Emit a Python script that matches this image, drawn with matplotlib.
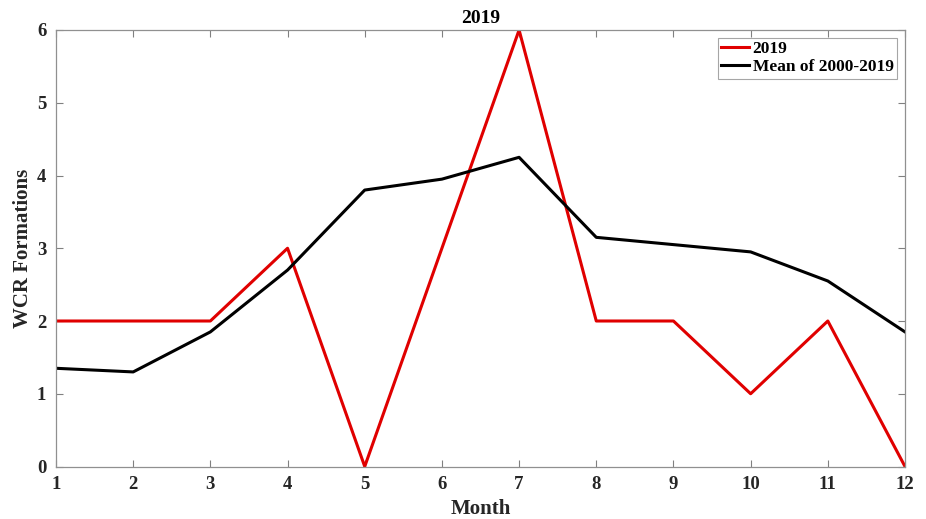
import matplotlib
matplotlib.use("Agg")
import matplotlib.pyplot as plt

months = [1, 2, 3, 4, 5, 6, 7, 8, 9, 10, 11, 12]
wcr_2019 = [2, 2, 2, 3, 0, 3, 6, 2, 2, 1, 2, 0]
wcr_mean = [1.35, 1.30, 1.85, 2.70, 3.80, 3.95, 4.25, 3.15, 3.05, 2.95, 2.55, 1.85]
xticks = months
yticks = [0, 1, 2, 3, 4, 5, 6]

plt.rcParams['font.family'] = ['Liberation Serif', 'DejaVu Serif']
plt.rcParams['font.weight'] = 'bold'

fig = plt.figure(figsize=(9.26, 5.19), dpi=100)
ax = fig.add_axes([56/926, 1 - 466.5/519, (905-56)/926, (466.5-30)/519])

ax.plot(months, wcr_2019, color='#e00000', lw=2.2, label='2019')
ax.plot(months, wcr_mean, color='black', lw=2.2, label='Mean of 2000-2019')

ax.set_xlim(1, 12)
ax.set_ylim(0, 6)
ax.set_xticks(xticks)
ax.set_yticks(yticks)
ax.tick_params(direction='in', top=True, right=True, length=5, width=0.8,
               color='#808080', labelsize=13.5, labelcolor='#262626', pad=7)
for lbl in ax.get_xticklabels() + ax.get_yticklabels():
    lbl.set_fontweight('bold')
for s in ax.spines.values():
    s.set_color('#909090')
    s.set_linewidth(0.9)

ax.set_xlabel('Month', fontsize=15, fontweight='bold', color='#262626', labelpad=4)
ax.set_ylabel('WCR Formations', fontsize=15, fontweight='bold', color='#262626', labelpad=3)
ax.set_title('2019', fontsize=14, fontweight='bold', color='black', pad=5)

leg = ax.legend(loc='upper right', fontsize=12.5, frameon=True, fancybox=False,
                edgecolor='#909090', handlelength=1.6, handletextpad=0.2,
                borderpad=0.2, labelspacing=0.1, borderaxespad=0.45)
leg.get_frame().set_linewidth(0.8)
for t in leg.get_texts():
    t.set_fontweight('bold')

fig.savefig('out.png', dpi=100)
